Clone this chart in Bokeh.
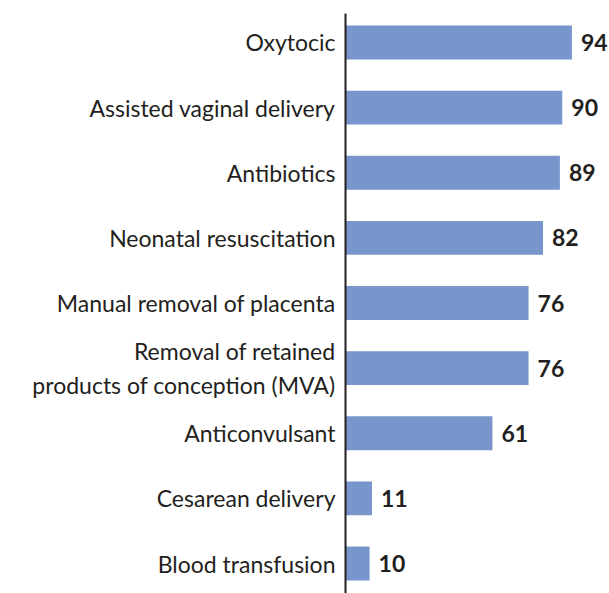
from bokeh.plotting import figure
from bokeh.models import Range1d, FixedTicker, ColumnDataSource
from bokeh.embed import file_html
from bokeh.resources import INLINE
from bokeh.core.properties import value
import numpy as np

categories = [
    "Oxytocic",
    "Assisted vaginal delivery",
    "Antibiotics",
    "Neonatal resuscitation",
    "Manual removal of placenta",
    "Removal of retained\nproducts of conception (MVA)",
    "Anticonvulsant",
    "Cesarean delivery",
    "Blood transfusion",
]
values = [94, 90, 89, 82, 76, 76, 61, 11, 10]

BAR = "#7896cc"
INK = "#231f20"
FONT = "Lato"

pos = np.arange(len(categories))
src = ColumnDataSource(dict(y=pos, v=values, lab=[str(v) for v in values]))

p = figure(width=609, height=593, output_backend="svg", toolbar_location=None,
           x_range=Range1d(0, 109.6), y_range=Range1d(8.46, -0.445),
           min_border_left=345, min_border_right=0, min_border_top=13,
           min_border_bottom=0)
p.outline_line_color = None
p.grid.visible = False
p.xaxis.visible = False
p.background_fill_color = "white"

p.hbar(y="y", right="v", left=0, height=0.52, source=src, color=BAR, line_color=None)
p.text(x="v", y="y", text="lab", source=src, x_offset=9, text_baseline="middle",
       text_align="left", text_font=value(FONT), text_font_style="bold",
       text_font_size="23px", text_color=INK)

ya = p.yaxis[0]
ya.ticker = FixedTicker(ticks=list(pos))
ya.major_label_overrides = {int(i): c for i, c in zip(pos, categories)}
ya.major_tick_line_color = None
ya.minor_tick_line_color = None
ya.axis_line_color = INK
ya.axis_line_width = 2
ya.major_label_standoff = 4
ya.major_label_text_font = FONT
ya.major_label_text_font_size = "23px"
ya.major_label_text_color = INK

open("out.html", "w").write(file_html(p, INLINE))
